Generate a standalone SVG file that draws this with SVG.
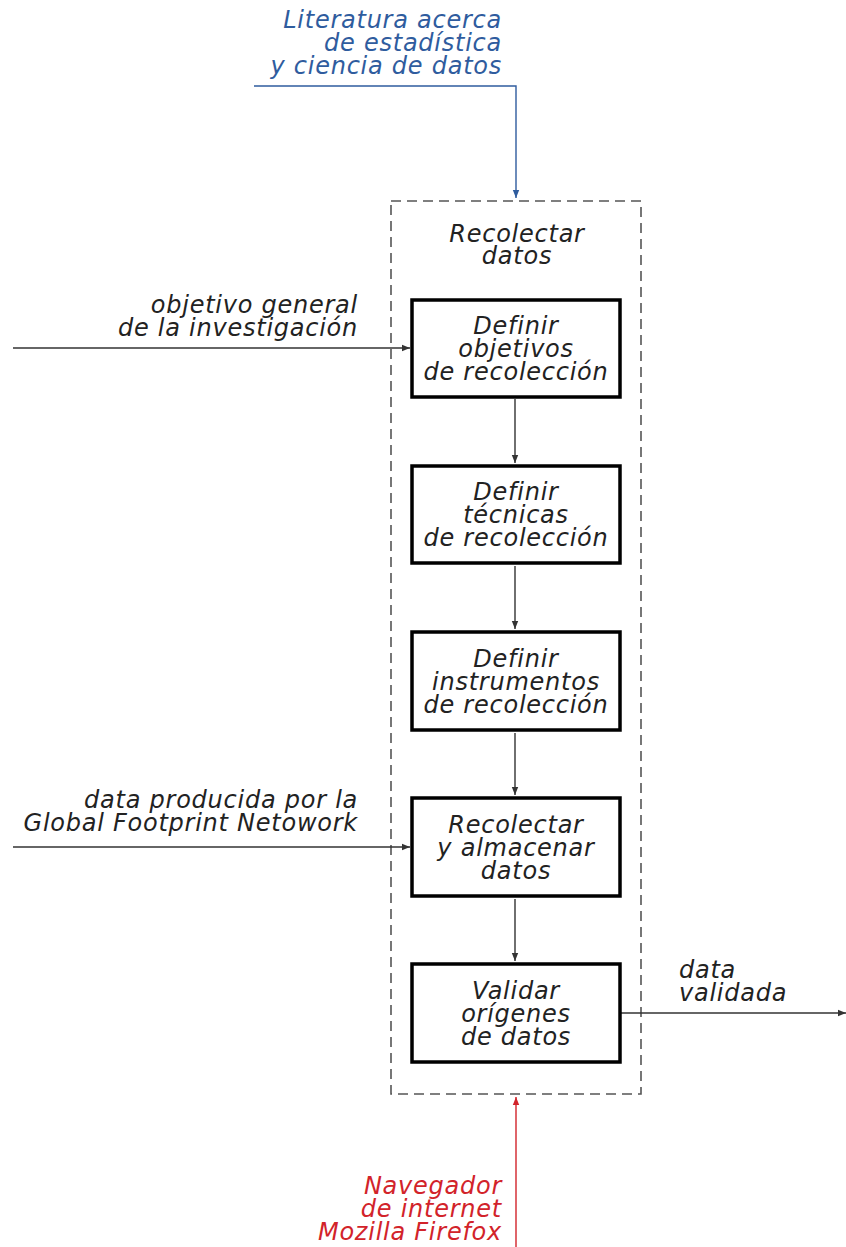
<svg xmlns="http://www.w3.org/2000/svg" width="846" height="1247" viewBox="0 0 846 1247">
  <style>
    .t { font-family: "DejaVu Sans", Verdana, sans-serif; font-style: italic; font-size: 24px; letter-spacing: 0.75px; fill: #222; }
    .mid { text-anchor: middle; }
    .end { text-anchor: end; }
    .blue { fill: #2f5c9e; }
    .red { fill: #d2232a; }
    .box { fill: #fff; stroke: #000; stroke-width: 3.5; }
    .frame { fill: none; stroke: #555; stroke-width: 1.6; stroke-dasharray: 10 6; }
    .flow { fill: none; stroke: #333; stroke-width: 1.4; }
  </style>
  <defs>
    <marker id="ah" viewBox="0 0 10 10" refX="10" refY="5" markerWidth="8" markerHeight="8" markerUnits="userSpaceOnUse" orient="auto">
      <path d="M0,1 L10,5 L0,9 z" fill="#333"/>
    </marker>
    <marker id="ahBlue" viewBox="0 0 10 10" refX="10" refY="5" markerWidth="8" markerHeight="8" markerUnits="userSpaceOnUse" orient="auto">
      <path d="M0,1 L10,5 L0,9 z" fill="#2f5c9e"/>
    </marker>
    <marker id="ahRed" viewBox="0 0 10 10" refX="10" refY="5" markerWidth="8" markerHeight="8" markerUnits="userSpaceOnUse" orient="auto">
      <path d="M0,1 L10,5 L0,9 z" fill="#d2232a"/>
    </marker>
  </defs>

  <!-- enclosing activity -->
  <g id="recolectar-datos">
    <rect class="frame" x="391" y="201" width="250" height="893"/>
    <text class="t mid" x="517" y="242">Recolectar</text>
    <text class="t mid" x="517" y="264">datos</text>
  </g>

  <!-- connectors -->
  <g id="connectors">
    <path d="M254,86 H516 V198" fill="none" stroke="#2f5c9e" stroke-width="1.4" marker-end="url(#ahBlue)"/>
    <path d="M516,1247 V1097" fill="none" stroke="#d2232a" stroke-width="1.4" marker-end="url(#ahRed)"/>
    <path class="flow" d="M13,348 H410" marker-end="url(#ah)"/>
    <path class="flow" d="M13,847 H410" marker-end="url(#ah)"/>
    <path class="flow" d="M620,1013 H846" marker-end="url(#ah)"/>
    <path class="flow" d="M515,399 V463" marker-end="url(#ah)"/>
    <path class="flow" d="M515,566 V629" marker-end="url(#ah)"/>
    <path class="flow" d="M515,733 V795" marker-end="url(#ah)"/>
    <path class="flow" d="M515,899 V961" marker-end="url(#ah)"/>
  </g>

  <!-- external labels -->
  <g id="in-literatura">
    <text class="t end blue" x="502" y="28">Literatura acerca</text>
    <text class="t end blue" x="502" y="51">de estadística</text>
    <text class="t end blue" x="502" y="74">y ciencia de datos</text>
  </g>
  <g id="in-objetivo">
    <text class="t end" x="358" y="313">objetivo general</text>
    <text class="t end" x="358" y="336">de la investigación</text>
  </g>
  <g id="in-gfn">
    <text class="t end" x="358" y="808">data producida por la</text>
    <text class="t end" x="358" y="831">Global Footprint Netowork</text>
  </g>
  <g id="out-data">
    <text class="t" x="679" y="978">data</text>
    <text class="t" x="679" y="1001">validada</text>
  </g>
  <g id="in-navegador">
    <text class="t end red" x="502" y="1194">Navegador</text>
    <text class="t end red" x="502" y="1217">de internet</text>
    <text class="t end red" x="502" y="1240">Mozilla Firefox</text>
  </g>

  <!-- sub-activities -->
  <g id="definir-objetivos">
    <rect class="box" x="412" y="300" width="208" height="97"/>
    <text class="t mid" x="516" y="334">Definir</text>
    <text class="t mid" x="516" y="357">objetivos</text>
    <text class="t mid" x="516" y="380">de recolección</text>
  </g>
  <g id="definir-tecnicas">
    <rect class="box" x="412" y="466" width="208" height="97"/>
    <text class="t mid" x="516" y="500">Definir</text>
    <text class="t mid" x="516" y="523">técnicas</text>
    <text class="t mid" x="516" y="546">de recolección</text>
  </g>
  <g id="definir-instrumentos">
    <rect class="box" x="412" y="632" width="208" height="98"/>
    <text class="t mid" x="516" y="667">Definir</text>
    <text class="t mid" x="516" y="690">instrumentos</text>
    <text class="t mid" x="516" y="713">de recolección</text>
  </g>
  <g id="recolectar-almacenar">
    <rect class="box" x="412" y="798" width="208" height="98"/>
    <text class="t mid" x="516" y="833">Recolectar</text>
    <text class="t mid" x="516" y="856">y almacenar</text>
    <text class="t mid" x="516" y="879">datos</text>
  </g>
  <g id="validar-origenes">
    <rect class="box" x="412" y="964" width="208" height="98"/>
    <text class="t mid" x="516" y="999">Validar</text>
    <text class="t mid" x="516" y="1022">orígenes</text>
    <text class="t mid" x="516" y="1045">de datos</text>
  </g>
</svg>
